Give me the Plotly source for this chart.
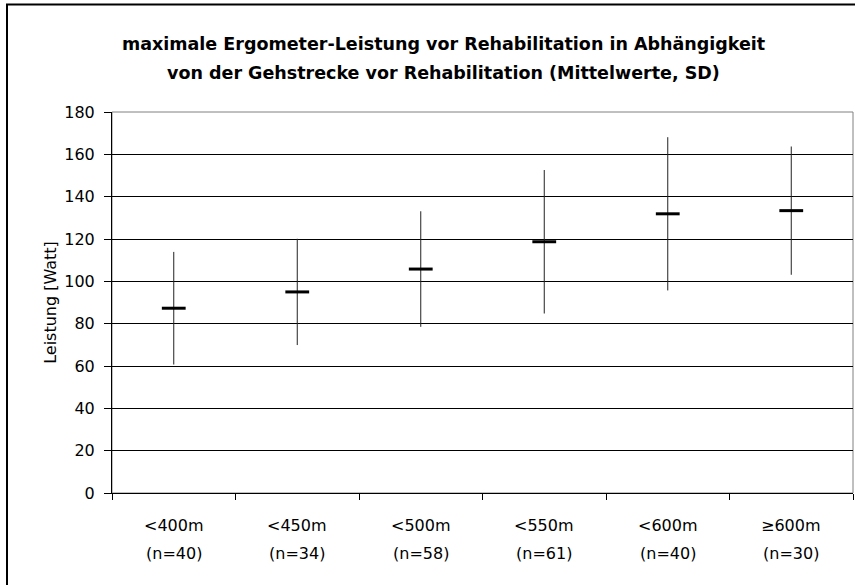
import plotly.graph_objects as go

categories = ["<400m", "<450m", "<500m", "<550m", "<600m", "≥600m"]
n_labels = ["(n=40)", "(n=34)", "(n=58)", "(n=61)", "(n=40)", "(n=30)"]
means = [87.3, 95.0, 105.8, 118.7, 131.9, 133.4]
sds = [26.6, 25.1, 27.3, 33.9, 36.2, 30.3]
y_ticks = [0, 20, 40, 60, 80, 100, 120, 140, 160, 180]
title_lines = ["maximale Ergometer-Leistung vor Rehabilitation in Abhängigkeit",
               "von der Gehstrecke vor Rehabilitation (Mittelwerte, SD)"]
y_title = "Leistung [Watt]"

FONT = "DejaVu Sans, Liberation Sans, Arial, sans-serif"

fig = go.Figure()
fig.add_trace(go.Scatter(
    x=categories, y=means, mode="markers",
    marker=dict(symbol="line-ew", size=17, color="black",
                line=dict(color="black", width=3)),
    error_y=dict(type="data", array=sds, symmetric=True,
                 width=0, thickness=1, color="#222"),
    showlegend=False, hoverinfo="skip",
))

fig.update_layout(
    width=855, height=585,
    margin=dict(l=112, r=2, t=112, b=92),
    paper_bgcolor="white", plot_bgcolor="white",
    font=dict(family=FONT, size=16, color="black"),
    xaxis=dict(
        type="category", categoryorder="array", categoryarray=categories,
        range=[-0.5, len(categories) - 0.5],
        tickson="boundaries", ticks="outside", ticklen=6, tickcolor="black",
        showticklabels=False, showgrid=False, zeroline=False,
        showline=True, linecolor="black", linewidth=1,
    ),
    xaxis2=dict(
        overlaying="x", anchor="y", type="linear",
        range=[-0.5, len(categories) - 0.5], tick0=-0.5, dtick=1,
        ticks="inside", ticklen=6, tickcolor="black",
        showticklabels=False, showgrid=False, zeroline=False, showline=False,
    ),
    yaxis=dict(
        range=[0, 180], tickvals=y_ticks,
        ticks="outside", ticklen=7, tickcolor="black",
        ticklabelstandoff=6,
        showgrid=True, gridcolor="black", gridwidth=1,
        zeroline=False, showline=True, linecolor="black", linewidth=1,
        tickfont=dict(size=16),
        title=dict(text=y_title, font=dict(size=16), standoff=3),
    ),
)

# plot-area border (grey)
fig.add_shape(type="rect", xref="paper", yref="paper", x0=0, x1=1, y0=0, y1=1,
              line=dict(color="#808080", width=1), layer="below")
# outer chart frame
fig.add_shape(type="rect", xref="paper", yref="paper", x0=-0.1417, x1=1.2,
              y0=-0.6, y1=1.282, line=dict(color="black", width=2), layer="above")

# title lines
for i, line in enumerate(title_lines):
    fig.add_annotation(text="<b>" + line + "</b>", xref="paper", yref="paper",
                       x=0.448, y=1, yshift=68 - 29 * i, showarrow=False,
                       xanchor="center", yanchor="middle",
                       font=dict(family=FONT, size=17.5, color="black"))

# category labels
for c, n in zip(categories, n_labels):
    fig.add_annotation(text=c, x=c, xref="x", y=0, yref="paper", yshift=-32,
                       showarrow=False, xanchor="center", yanchor="middle",
                       font=dict(family=FONT, size=16))
    fig.add_annotation(text=n, x=c, xref="x", y=0, yref="paper", yshift=-60,
                       showarrow=False, xanchor="center", yanchor="middle",
                       font=dict(family=FONT, size=16))

fig.write_html("out.html",
               config=dict(displayModeBar=False),
               post_script="document.body.style.margin='0';document.body.style.overflow='hidden';")
